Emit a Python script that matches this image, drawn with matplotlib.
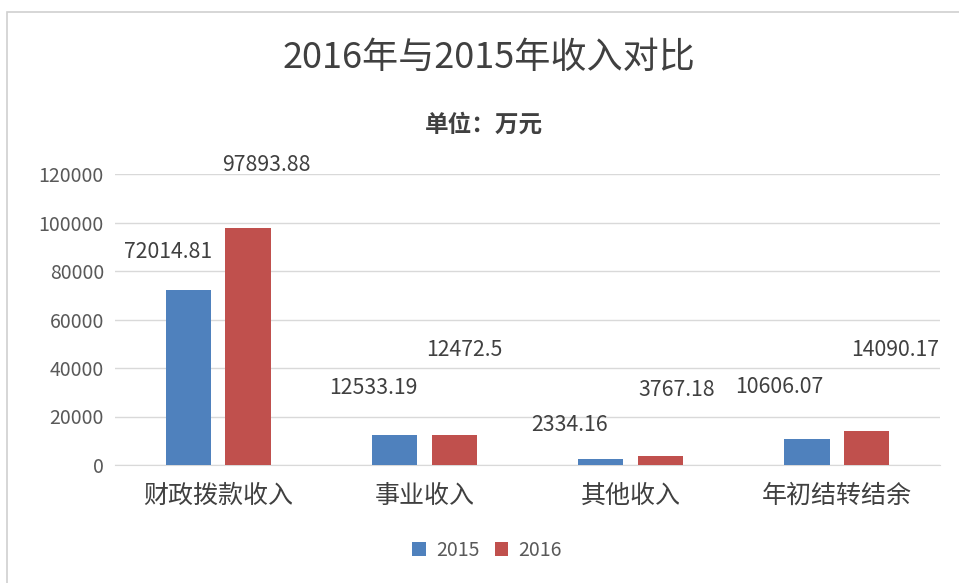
import matplotlib
matplotlib.use("Agg")
import matplotlib.pyplot as plt
import numpy as np
from matplotlib.patches import Rectangle

plt.rcParams['font.family'] = ['Noto Sans CJK SC', 'DejaVu Sans']

# chart data
categories = ["财政拨款收入", "事业收入", "其他收入", "年初结转结余"]
values_2015 = [72014.81, 12533.19, 2334.16, 10606.07]
values_2016 = [97893.88, 12472.5, 3767.18, 14090.17]
labels_2015 = ["72014.81", "12533.19", "2334.16", "10606.07"]
labels_2016 = ["97893.88", "12472.5", "3767.18", "14090.17"]
yticks = [0, 20000, 40000, 60000, 80000, 100000, 120000]

# label offsets (pixels) from the bar top, as placed in the original
offsets_2015 = [(-20, 38), (-21, 47), (-31, 34), (-28, 52)]
offsets_2016 = [(18, 63), (10, 85), (16, 66), (28, 81)]

blue = "#4f81bd"
red = "#c0504d"
text_col = "#595959"

fig = plt.figure(figsize=(9.59, 5.83), dpi=100)
fig.patches.append(Rectangle((7 / 959, -0.01), 1.0, 1 - 12 / 583 + 0.01, transform=fig.transFigure,
                             fill=False, edgecolor="#d0d0d0", linewidth=1.2))

ax = fig.add_axes([115 / 959, 1 - 465 / 583, 825 / 959, 291 / 583])

x = np.arange(len(categories))
w = 0.22
b1 = ax.bar(x - 0.145, values_2015, w, color=blue, label="2015", zorder=3)
b2 = ax.bar(x + 0.145, values_2016, w, color=red, label="2016", zorder=3)

# data labels
for bars, labs, offs in [(b1, labels_2015, offsets_2015), (b2, labels_2016, offsets_2016)]:
    for bar, lab, (dx, dy) in zip(bars, labs, offs):
        ax.annotate(lab, (bar.get_x() + bar.get_width() / 2, bar.get_height()),
                    xytext=(dx * 0.72, dy * 0.72), textcoords="offset points",
                    ha="center", va="center", fontsize=15.3, color="#404040")

ax.set_xlim(-0.5, len(categories) - 0.5)
ax.set_ylim(0, 120000)
ax.set_yticks(yticks)
ax.set_yticklabels([str(t) for t in yticks])
ax.set_xticks(x)
ax.set_xticklabels(categories, fontsize=18, color="#404040")
ax.tick_params(axis="y", length=0, pad=8, labelsize=14, labelcolor=text_col)
ax.tick_params(axis="x", length=0, pad=13)
ax.grid(axis="y", color="#d9d9d9", linewidth=1, zorder=0)
for s in ["top", "right", "left"]:
    ax.spines[s].set_visible(False)
ax.spines["bottom"].set_color("#d9d9d9")

fig.text(489 / 959, 1 - 58 / 583, "2016年与2015年收入对比", ha="center", va="center",
         fontsize=26, color="#404040")
fig.text(484 / 959, 1 - 125 / 583, "单位：万元", ha="center", va="center",
         fontsize=17, color="#404040", fontweight="bold")

fig.legend(handles=[b1, b2], labels=["2015", "2016"], loc="center", bbox_to_anchor=(487 / 959, 1 - 550 / 583),
           ncol=2, frameon=False, fontsize=14, handlelength=0.7, handleheight=0.7,
           handletextpad=0.5, columnspacing=0.8, labelcolor=text_col)

fig.savefig("out.png", dpi=100)
